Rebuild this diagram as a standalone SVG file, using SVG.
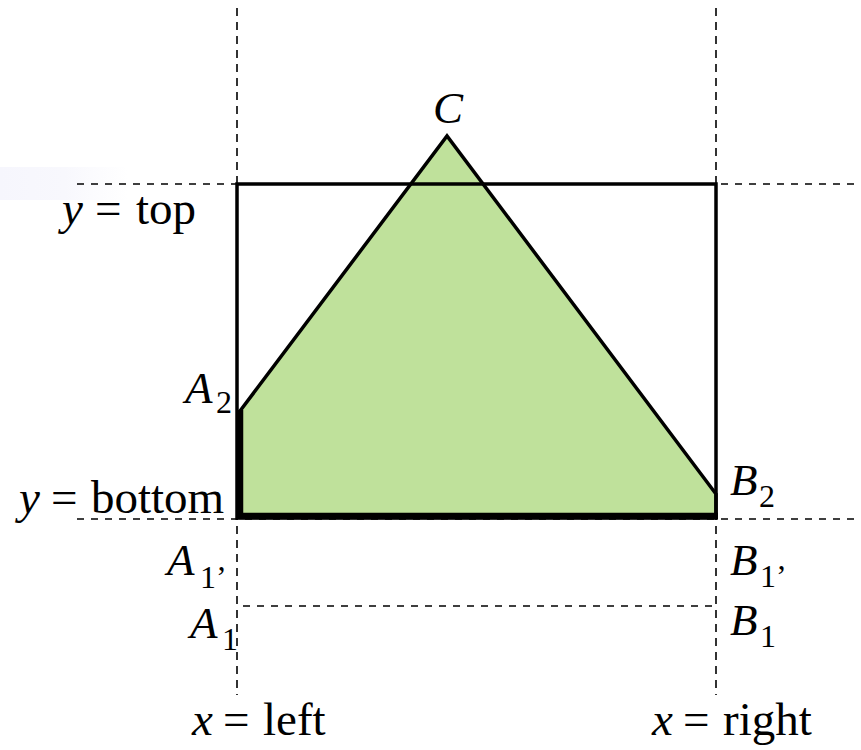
<svg xmlns="http://www.w3.org/2000/svg" width="861" height="750" viewBox="0 0 861 750">
<defs>
<linearGradient id="fade" x1="0" y1="0" x2="1" y2="0">
<stop offset="0" stop-color="#f6f6fd"/>
<stop offset="0.5" stop-color="#f8f8fd"/>
<stop offset="1" stop-color="#ffffff"/>
</linearGradient>
<style>
.dv{stroke:#000;stroke-width:1.6;stroke-dasharray:8 6;fill:none}
.dh{stroke:#000;stroke-width:1.6;stroke-dasharray:7 7;fill:none}
</style>
</defs>
<rect x="0" y="167" width="128" height="33" fill="url(#fade)"/>
<g id="guides">
<line class="dv" x1="237" y1="8" x2="237" y2="695"/>
<line class="dv" x1="716" y1="8" x2="716" y2="695"/>
<line class="dh" x1="77" y1="184" x2="856" y2="184"/>
<line class="dh" x1="77" y1="519" x2="856" y2="519"/>
<line class="dh" x1="243" y1="606" x2="712" y2="606"/>
</g>
<g id="shape">
<polygon points="240,411 447,136 716,494 716,517 240,517" fill="#bfe19b" stroke="#000" stroke-width="3.5" stroke-linejoin="miter"/>
</g>
<g id="rect">
<rect x="237" y="184" width="479" height="334" fill="none" stroke="#000" stroke-width="3.5"/>
<line x1="240" y1="410" x2="240" y2="519" stroke="#000" stroke-width="6.5"/>
<line x1="237" y1="516" x2="718" y2="516" stroke="#000" stroke-width="6.5"/>
</g>
<g id="labels">
<text font-family="Liberation Serif" font-size="47" y="224"><tspan font-style="italic" x="62">y</tspan><tspan x="95">=</tspan><tspan x="136">top</tspan></text>
<text font-family="Liberation Serif" font-size="47" y="513"><tspan font-style="italic" x="19">y</tspan><tspan x="51">=</tspan><tspan x="91">bottom</tspan></text>
<text font-family="Liberation Serif" font-size="45" font-style="italic" x="448" y="123" text-anchor="middle">C</text>
<text font-family="Liberation Serif" font-size="45" font-style="italic" x="185" y="403">A</text>
<text font-family="Liberation Serif" font-size="32" x="216" y="413">2</text>
<text font-family="Liberation Serif" font-size="45" font-style="italic" x="730" y="495">B</text>
<text font-family="Liberation Serif" font-size="32" x="759" y="507">2</text>
<text font-family="Liberation Serif" font-size="45" font-style="italic" x="167" y="575">A</text>
<text font-family="Liberation Serif" font-size="32" x="200" y="588">1’</text>
<text font-family="Liberation Serif" font-size="45" font-style="italic" x="190" y="638">A</text>
<text font-family="Liberation Serif" font-size="32" x="222" y="650">1</text>
<text font-family="Liberation Serif" font-size="45" font-style="italic" x="730" y="575">B</text>
<text font-family="Liberation Serif" font-size="32" x="760" y="587">1’</text>
<text font-family="Liberation Serif" font-size="45" font-style="italic" x="730" y="635">B</text>
<text font-family="Liberation Serif" font-size="32" x="760" y="647">1</text>
<text font-family="Liberation Serif" font-size="47" y="735"><tspan font-style="italic" x="192">x</tspan><tspan x="223">=</tspan><tspan x="263">left</tspan></text>
<text font-family="Liberation Serif" font-size="47" y="735"><tspan font-style="italic" x="652">x</tspan><tspan x="683">=</tspan><tspan x="723">right</tspan></text>
</g>
</svg>
